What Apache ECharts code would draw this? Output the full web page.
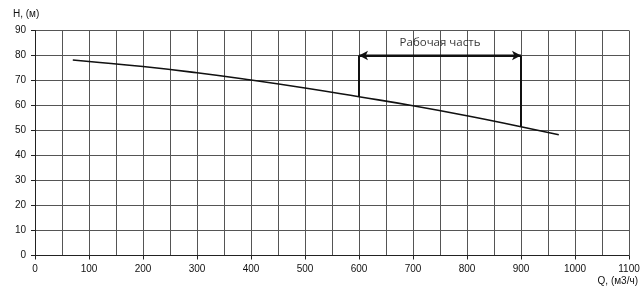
<!DOCTYPE html>
<html>
<head>
<meta charset="utf-8">
<script src="https://cdn.jsdelivr.net/npm/echarts@6/dist/echarts.min.js"></script>
<style>html,body{margin:0;padding:0;background:#fff}#c{width:644px;height:288px}</style>
</head>
<body>
<div id="c"></div>
<script>
const curveQ = [70, 100, 200, 300, 400, 500, 600, 700, 800, 900, 970];
const curveH = [78.2, 77.6, 75.6, 73.1, 70.2, 67.0, 63.5, 59.9, 55.9, 51.5, 48.3];
const workQ = [600, 900];
const workTopH = 80;
const workLabel = 'Рабочая часть';
const workLabelPos = [750, 85.2];
const yName = 'H, (м)';
const xName = 'Q, (м3/ч)';

function hAt(q) {
  for (let i = 0; i < curveQ.length - 1; i++) {
    if (q >= curveQ[i] && q <= curveQ[i + 1]) {
      const t = (q - curveQ[i]) / (curveQ[i + 1] - curveQ[i]);
      return curveH[i] + t * (curveH[i + 1] - curveH[i]);
    }
  }
  return null;
}

const chart = echarts.init(document.getElementById('c'));
const lineColor = '#555';
const font = 'Liberation Sans, Arial, sans-serif';
chart.setOption({
  animation: false,
  grid: { left: 35, right: 15, top: 30.5, bottom: 32.5, containLabel: false, outerBoundsMode: 'none' },
  xAxis: {
    type: 'value', min: 0, max: 1100, interval: 100,
    name: xName, nameLocation: 'end', nameGap: 0,
    nameTextStyle: { fontFamily: font, fontSize: 10, color: '#111', align: 'right', verticalAlign: 'top', padding: [21, -9, 0, 0] },
    axisLine: { show: true, lineStyle: { color: '#222', width: 1 } },
    axisTick: { show: true, length: 4, lineStyle: { color: '#222' } },
    axisLabel: { fontFamily: font, fontSize: 10, color: '#111', margin: 9, formatter: v => String(v) },
    splitLine: { show: true, lineStyle: { color: lineColor, width: 1 } },
    minorTick: { show: false, splitNumber: 2 },
    minorSplitLine: { show: true, lineStyle: { color: lineColor, width: 1 } }
  },
  yAxis: {
    type: 'value', min: 0, max: 90, interval: 10,
    name: yName, nameLocation: 'end', nameGap: 11,
    nameTextStyle: { fontFamily: font, fontSize: 10, color: '#111', align: 'left', padding: [0, 0, 0, -22] },
    axisLine: { show: true, lineStyle: { color: '#222', width: 1 } },
    axisTick: { show: true, length: 4, lineStyle: { color: '#222' } },
    axisLabel: { fontFamily: font, fontSize: 10, color: '#111', margin: 9, formatter: v => String(v) },
    splitLine: { show: true, lineStyle: { color: lineColor, width: 1 } }
  },
  series: [
    {
      type: 'line', data: curveQ.map((q, i) => [q, curveH[i]]),
      smooth: true, showSymbol: false, lineStyle: { color: '#111', width: 1.6 }, z: 5
    },
    {
      type: 'line', data: [[workQ[0], hAt(workQ[0])], [workQ[0], workTopH]],
      showSymbol: false, lineStyle: { color: '#111', width: 2 }, z: 6
    },
    {
      type: 'line', data: [[workQ[1], hAt(workQ[1])], [workQ[1], workTopH]],
      showSymbol: false, lineStyle: { color: '#111', width: 2 }, z: 6
    },
    {
      type: 'line', data: [[workQ[0], workTopH], [workQ[1], workTopH]],
      showSymbol: false, lineStyle: { color: '#111', width: 2 }, z: 6,
      markLine: {
        silent: true, symbol: ['arrow', 'arrow'], symbolSize: [7, 9],
        lineStyle: { color: '#111', width: 2, type: 'solid' }, label: { show: false },
        data: [[{ coord: [workQ[0], workTopH] }, { coord: [workQ[1], workTopH] }]]
      }
    },
    {
      type: 'scatter', data: [workLabelPos], symbolSize: 0, z: 7,
      label: { show: true, position: 'inside', formatter: workLabel, fontFamily: 'Open Sans, sans-serif', fontSize: 11.5, color: '#000' }
    }
  ]
});
</script>
</body>
</html>
